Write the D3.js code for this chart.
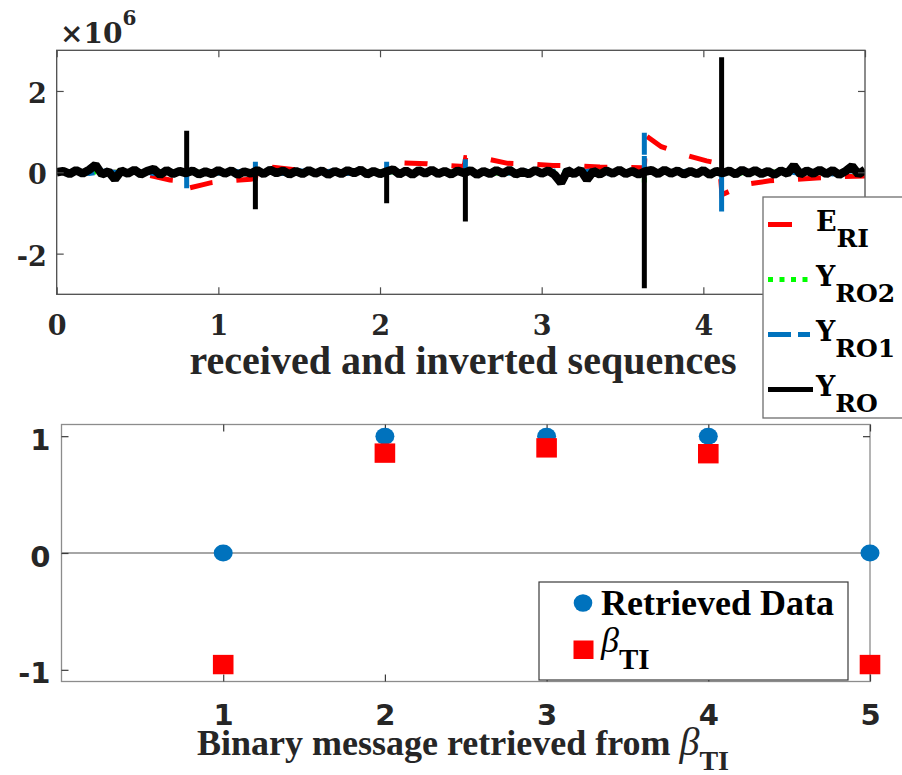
<!DOCTYPE html>
<html>
<head>
<meta charset="utf-8">
<script src="https://cdn.jsdelivr.net/npm/d3@7"></script>
<style>
  html, body { margin: 0; padding: 0; background: #fff; }
  svg { display: block; }
</style>
</head>
<body>
<svg id="fig" width="902" height="775"></svg>
<script>
// ---------- upper panel: received and inverted sequences (values in units of 1e6) ----------
const seqTicksX = [0, 1, 2, 3, 4, 5];
const seqTicksY = [-2, 0, 2];
const sampleStep = 0.04;            // spacing of the Y_RO samples

// Y_RO : received sequence, sampled every 0.04
const yRO = [
  0.00, 0.03, -0.04, 0.05, -0.03, 0.06, 0.18, -0.05, 0.02, -0.17,
  0.04, -0.03, 0.06, -0.05, 0.03, 0.08, -0.06, 0.05, -0.04, 0.03,
  -0.02, 0.04, -0.05, 0.02, -0.04, 0.05, -0.03, 0.04, -0.06, 0.02,
  -0.03, 0.05, -0.04, 0.06, -0.02, 0.04, -0.05, 0.03, -0.04, 0.05,
  -0.03, 0.04, -0.06, 0.03, -0.04, 0.05, -0.02, 0.06, -0.05, 0.03,
  -0.04, 0.02, 0.07, -0.05, 0.04, -0.06, 0.05, -0.03, 0.06, -0.04,
  0.03, -0.05, 0.04, -0.02, 0.05, -0.06, 0.03, -0.04, 0.05, -0.03,
  0.06, -0.05, 0.02, -0.04, 0.05, -0.03, 0.04, -0.06, -0.26, 0.05,
  -0.04, 0.06, -0.18, 0.03, -0.05, 0.04, -0.03, 0.06, -0.04, 0.03,
  -0.05, 0.02, 0.05, -0.04, 0.06, -0.03, 0.04, -0.05, 0.03, -0.04,
  0.05, -0.06, 0.03, -0.02, 0.04, -0.05, 0.06, -0.03, 0.05, -0.04,
  0.03, -0.06, 0.04, -0.03, 0.17, -0.05, 0.04, -0.03, 0.06, -0.04,
  0.05, -0.06, 0.03, 0.15, -0.05, 0.06
];
// single-sample impulses of Y_RO: [position, value]
const yROSpikes = [[0.804, 1.02], [1.229, -0.91], [2.041, -0.76], [2.528, -1.21], [3.635, -2.85], [4.113, 2.83]];

// Y_RO1, sampled every 0.1
const yRO1Step = 0.1;
const yRO1 = [
  0.00, 0.02, -0.03, 0.03, -0.02, 0.04, -0.03, 0.02, -0.04, 0.03,
  -0.02, 0.03, -0.04, 0.02, -0.03, 0.04, -0.02, 0.03, -0.03, 0.02,
  -0.04, 0.03, -0.02, 0.04, -0.03, 0.02, -0.04, 0.03, -0.02, 0.03,
  -0.03, 0.04, -0.02, 0.03, -0.04, 0.02, -0.03, 0.04, -0.02, 0.03,
  -0.04, 0.02, -0.03, 0.03, -0.02, 0.04, -0.03, 0.02, -0.04, 0.03,
  0.05
];
const yRO1Spikes = [[0.804, -0.39], [1.229, 0.26], [2.041, 0.28], [2.528, 0.32], [3.635, 0.97], [4.113, -0.99]];

// Y_RO2, sampled every 0.25
const yRO2Step = 0.25;
const yRO2 = [0.00, 0.01, -0.01, 0.02, -0.01, 0.01, -0.02, 0.01, 0.02, -0.01, 0.01,
              -0.02, 0.01, -0.01, 0.02, -0.01, 0.01, -0.02, 0.01, -0.01, 0.01];
const yRO2Spikes = [[3.635, -0.25]];

// E_RI : [position, value]
const eRI = [
  [0.00, 0.00], [0.50, 0.00], [0.60, -0.10], [0.70, -0.19], [0.80, -0.22],
  [0.805, -0.40], [0.90, -0.31], [0.95, -0.26], [1.05, -0.21], [1.20, -0.17],
  [1.23, -0.15], [1.24, 0.16], [1.35, 0.12], [1.46, 0.07], [1.60, 0.03],
  [1.80, 0.01], [2.00, 0.00], [2.04, 0.02], [2.05, 0.26], [2.15, 0.23],
  [2.29, 0.21], [2.40, 0.17], [2.52, 0.14], [2.53, 0.36], [2.65, 0.34],
  [2.79, 0.22], [2.94, 0.20], [3.07, 0.17], [3.22, 0.16], [3.36, 0.13],
  [3.50, 0.12], [3.62, 0.11], [3.635, 0.10], [3.645, 0.90], [3.74, 0.63],
  [3.885, 0.43], [4.02, 0.28], [4.10, 0.22], [4.115, -0.55], [4.20, -0.40],
  [4.275, -0.29], [4.41, -0.21], [4.55, -0.18], [4.70, -0.14], [4.84, -0.11],
  [5.00, -0.09]
];

// ---------- lower panel: binary message ----------
const bitIndex = [1, 2, 3, 4, 5];
const retrievedData = [0, 1, 1, 1, 0];
const betaTI = [-0.955, 0.855, 0.90, 0.85, -0.955];
const msgTicksY = [-1, 0, 1];

// ---------- drawing ----------
const svg = d3.select("#fig");
svg.append("rect").attr("width", 902).attr("height", 775).attr("fill", "#fff");

const SERIF = "'Liberation Serif', 'Times New Roman', serif";
const WIDE_SERIF = "'DejaVu Serif', serif";
const WIDE_SANS = "'DejaVu Sans', sans-serif";
const INK = "#262626";

// [x, y] samples of a series, with its impulses inserted as up-and-back strokes
function withSpikes(values, step, spikes) {
  const pts = values.map((v, i) => [i * step, v]);
  spikes.forEach(([sx, sv]) => {
    let k = pts.findIndex(p => p[0] > sx);
    if (k < 0) k = pts.length;
    pts.splice(k, 0, [sx, 0], [sx, sv], [sx, 0]);
  });
  return pts;
}

function styleAxis(g, color) {
  g.select(".domain").remove();
  g.selectAll(".tick line").attr("stroke", color).attr("stroke-width", 1.2);
}

// ===== upper axes =====
const xTop = d3.scaleLinear().domain([0, 5]).range([56.7, 865]);
const yTop = d3.scaleLinear().domain([-3, 3]).range([294.3, 50.3]);
const topAxisColor = "#4d4d4d";

svg.append("clipPath").attr("id", "clipTop")
  .append("rect").attr("x", xTop(0)).attr("y", yTop(3))
  .attr("width", xTop(5) - xTop(0)).attr("height", yTop(-3) - yTop(3));

const gTop = svg.append("g");
const lineTop = d3.line().x(d => xTop(d[0])).y(d => yTop(d[1]));
const plotTop = gTop.append("g").attr("clip-path", "url(#clipTop)");

// E_RI
plotTop.append("path").datum(eRI).attr("d", lineTop)
  .attr("fill", "none").attr("stroke", "#ff0000").attr("stroke-width", 5)
  .attr("stroke-dasharray", "23,24");
// Y_RO2
plotTop.append("path").datum(withSpikes(yRO2, yRO2Step, yRO2Spikes)).attr("d", lineTop)
  .attr("fill", "none").attr("stroke", "#00ff00").attr("stroke-width", 5)
  .attr("stroke-dasharray", "5,6.5");
// Y_RO1
plotTop.append("path").datum(withSpikes(yRO1, yRO1Step, yRO1Spikes)).attr("d", lineTop)
  .attr("fill", "none").attr("stroke", "#0072bd").attr("stroke-width", 5)
  .attr("stroke-dasharray", "22,7,9,7");
// Y_RO : dense samples form a heavy band, impulses are single-sample strokes
plotTop.append("path").datum(yRO.map((v, i) => [i * sampleStep, v])).attr("d", lineTop)
  .attr("fill", "none").attr("stroke", "#000").attr("stroke-width", 8.5)
  .attr("stroke-linejoin", "bevel");
plotTop.selectAll("line.imp").data(yROSpikes).join("line").attr("class", "imp")
  .attr("x1", d => xTop(d[0])).attr("x2", d => xTop(d[0]))
  .attr("y1", yTop(0)).attr("y2", d => yTop(d[1]))
  .attr("stroke", "#000").attr("stroke-width", 5);

// box and inward ticks on all sides
gTop.append("rect").attr("x", xTop(0)).attr("y", yTop(3))
  .attr("width", xTop(5) - xTop(0)).attr("height", yTop(-3) - yTop(3))
  .attr("fill", "none").attr("stroke", topAxisColor).attr("stroke-width", 1.3);

const axB = gTop.append("g").attr("transform", `translate(0,${yTop(-3)})`)
  .call(d3.axisBottom(xTop).tickValues(seqTicksX).tickSizeInner(-7).tickSizeOuter(0).tickFormat(d3.format("d")));
styleAxis(axB, topAxisColor);
axB.selectAll("text").attr("y", 41).attr("dy", null)
  .attr("font-family", WIDE_SERIF).attr("font-weight", "bold").attr("font-size", 27).attr("fill", INK);

const axT = gTop.append("g").attr("transform", `translate(0,${yTop(3)})`)
  .call(d3.axisTop(xTop).tickValues(seqTicksX).tickSizeInner(-7).tickSizeOuter(0).tickFormat(""));
styleAxis(axT, topAxisColor);

const axL = gTop.append("g").attr("transform", `translate(${xTop(0)},0)`)
  .call(d3.axisLeft(yTop).tickValues(seqTicksY).tickSizeInner(-7).tickSizeOuter(0)
    .tickFormat(d => d3.format("d")(d).replace("\u2212", "-")));
styleAxis(axL, topAxisColor);
axL.selectAll("text").attr("x", -10).attr("dy", null).attr("y", 11.5)
  .attr("font-family", WIDE_SERIF).attr("font-weight", "bold").attr("font-size", 27).attr("fill", INK);

const axR = gTop.append("g").attr("transform", `translate(${xTop(5)},0)`)
  .call(d3.axisRight(yTop).tickValues(seqTicksY).tickSizeInner(-7).tickSizeOuter(0).tickFormat(""));
styleAxis(axR, topAxisColor);

// exponent label
const expo = svg.append("text").attr("x", 60).attr("y", 43)
  .attr("font-family", WIDE_SERIF).attr("font-weight", "bold").attr("font-size", 28).attr("fill", INK);
expo.append("tspan").text("\u00d710");
expo.append("tspan").attr("dy", -18).attr("font-size", 20).text("6");

// x label
svg.append("text").attr("x", 463).attr("y", 374).attr("text-anchor", "middle")
  .attr("font-family", SERIF).attr("font-weight", "bold").attr("font-size", 40).attr("fill", INK)
  .text("received and inverted sequences");

// legend of upper panel
const legTop = svg.append("g");
legTop.append("rect").attr("x", 763).attr("y", 197).attr("width", 160).attr("height", 221)
  .attr("fill", "#fff").attr("stroke", "#6e6e6e").attr("stroke-width", 1.3);
const legItems = [
  { main: "E", sub: "RI", color: "#ff0000", dash: "24,24" },
  { main: "Y", sub: "RO2", color: "#00ff00", dash: "5,6.5" },
  { main: "Y", sub: "RO1", color: "#0072bd", dash: "23,7,12,7" },
  { main: "Y", sub: "RO", color: "#000", dash: null }
];
legItems.forEach((it, i) => {
  const yy = 224.5 + i * 55;
  legTop.append("line").attr("x1", 768).attr("x2", 813).attr("y1", yy).attr("y2", yy)
    .attr("stroke", it.color).attr("stroke-width", 5)
    .attr("stroke-dasharray", it.dash);
  const t = legTop.append("text").attr("x", 816).attr("y", yy + 6)
    .attr("font-family", WIDE_SERIF).attr("font-weight", "bold").attr("font-size", 27).attr("fill", "#000");
  t.append("tspan").text(it.main);
  t.append("tspan").attr("dy", 16).attr("font-size", 25).text(it.sub);
});

// ===== lower axes =====
const xBot = d3.scaleLinear().domain([0, 5]).range([61.5, 870]);
const yBot = d3.scaleLinear().domain([-1.1, 1.1]).range([681.5, 424.5]);
const botAxisColor = "#8c8c8c";
const gBot = svg.append("g");

// stem baseline
gBot.append("line").attr("x1", xBot(0)).attr("x2", xBot(5)).attr("y1", yBot(0)).attr("y2", yBot(0))
  .attr("stroke", "#a6a6a6").attr("stroke-width", 2);

gBot.append("rect").attr("x", xBot(0)).attr("y", yBot(1.1))
  .attr("width", xBot(5) - xBot(0)).attr("height", yBot(-1.1) - yBot(1.1))
  .attr("fill", "none").attr("stroke", botAxisColor).attr("stroke-width", 1.3);

const bB = gBot.append("g").attr("transform", `translate(0,${yBot(-1.1)})`)
  .call(d3.axisBottom(xBot).tickValues(bitIndex).tickSizeInner(-7).tickSizeOuter(0).tickFormat(d3.format("d")));
styleAxis(bB, "#3a3a3a");
bB.selectAll("text").attr("y", 43.5).attr("dy", null)
  .attr("font-family", WIDE_SANS).attr("font-weight", "bold").attr("font-size", 29).attr("fill", INK);
const bT = gBot.append("g").attr("transform", `translate(0,${yBot(1.1)})`)
  .call(d3.axisTop(xBot).tickValues(bitIndex).tickSizeInner(-7).tickSizeOuter(0).tickFormat(""));
styleAxis(bT, "#3a3a3a");
const bL = gBot.append("g").attr("transform", `translate(${xBot(0)},0)`)
  .call(d3.axisLeft(yBot).tickValues(msgTicksY).tickSizeInner(-7).tickSizeOuter(0)
    .tickFormat(d => d3.format("d")(d).replace("\u2212", "-")));
styleAxis(bL, "#3a3a3a");
bL.selectAll("text").attr("x", -11).attr("dy", null).attr("y", 13)
  .attr("font-family", WIDE_SANS).attr("font-weight", "bold").attr("font-size", 29).attr("fill", INK);
const bR = gBot.append("g").attr("transform", `translate(${xBot(5)},0)`)
  .call(d3.axisRight(yBot).tickValues(msgTicksY).tickSizeInner(-7).tickSizeOuter(0).tickFormat(""));
styleAxis(bR, "#3a3a3a");

// markers
gBot.selectAll("ellipse.rd").data(bitIndex.map((b, i) => [b, retrievedData[i]])).join("ellipse")
  .attr("class", "rd").attr("cx", d => xBot(d[0])).attr("cy", d => yBot(d[1]))
  .attr("rx", 9.5).attr("ry", 8.5).attr("fill", "#0072bd");
gBot.selectAll("rect.bt").data(bitIndex.map((b, i) => [b, betaTI[i]])).join("rect")
  .attr("class", "bt").attr("x", d => xBot(d[0]) - 10.3).attr("y", d => yBot(d[1]) - 9.7)
  .attr("width", 20.6).attr("height", 19.4).attr("fill", "#ff0000");

// x label with beta_TI
const xl2 = svg.append("text").attr("x", 463).attr("y", 755).attr("text-anchor", "middle")
  .attr("font-family", SERIF).attr("font-weight", "bold").attr("font-size", 36).attr("fill", INK);
xl2.append("tspan").text("Binary message retrieved from ");
xl2.append("tspan").attr("font-style", "italic").attr("font-weight", "normal").attr("font-size", 40).text("\u03b2");
xl2.append("tspan").attr("dy", 15).attr("font-size", 28).text("TI");

// legend of lower panel
const legBot = svg.append("g");
legBot.append("rect").attr("x", 539).attr("y", 582).attr("width", 309).attr("height", 98)
  .attr("fill", "#fff").attr("stroke", "#3a3a3a").attr("stroke-width", 1.2);
legBot.append("ellipse").attr("cx", 583).attr("cy", 603).attr("rx", 9.3).attr("ry", 8.8).attr("fill", "#0072bd");
legBot.append("rect").attr("x", 573.5).attr("y", 640.5).attr("width", 20).attr("height", 18.5).attr("fill", "#ff0000");
legBot.append("text").attr("x", 601).attr("y", 615)
  .attr("font-family", SERIF).attr("font-weight", "bold").attr("font-size", 36).attr("fill", "#000")
  .text("Retrieved Data");
const lb = legBot.append("text").attr("x", 601).attr("y", 652)
  .attr("font-family", SERIF).attr("font-size", 36).attr("fill", "#000");
lb.append("tspan").attr("font-style", "italic").text("\u03b2");
lb.append("tspan").attr("dy", 17).attr("font-weight", "bold").attr("font-size", 29).text("TI");
</script>
</body>
</html>
